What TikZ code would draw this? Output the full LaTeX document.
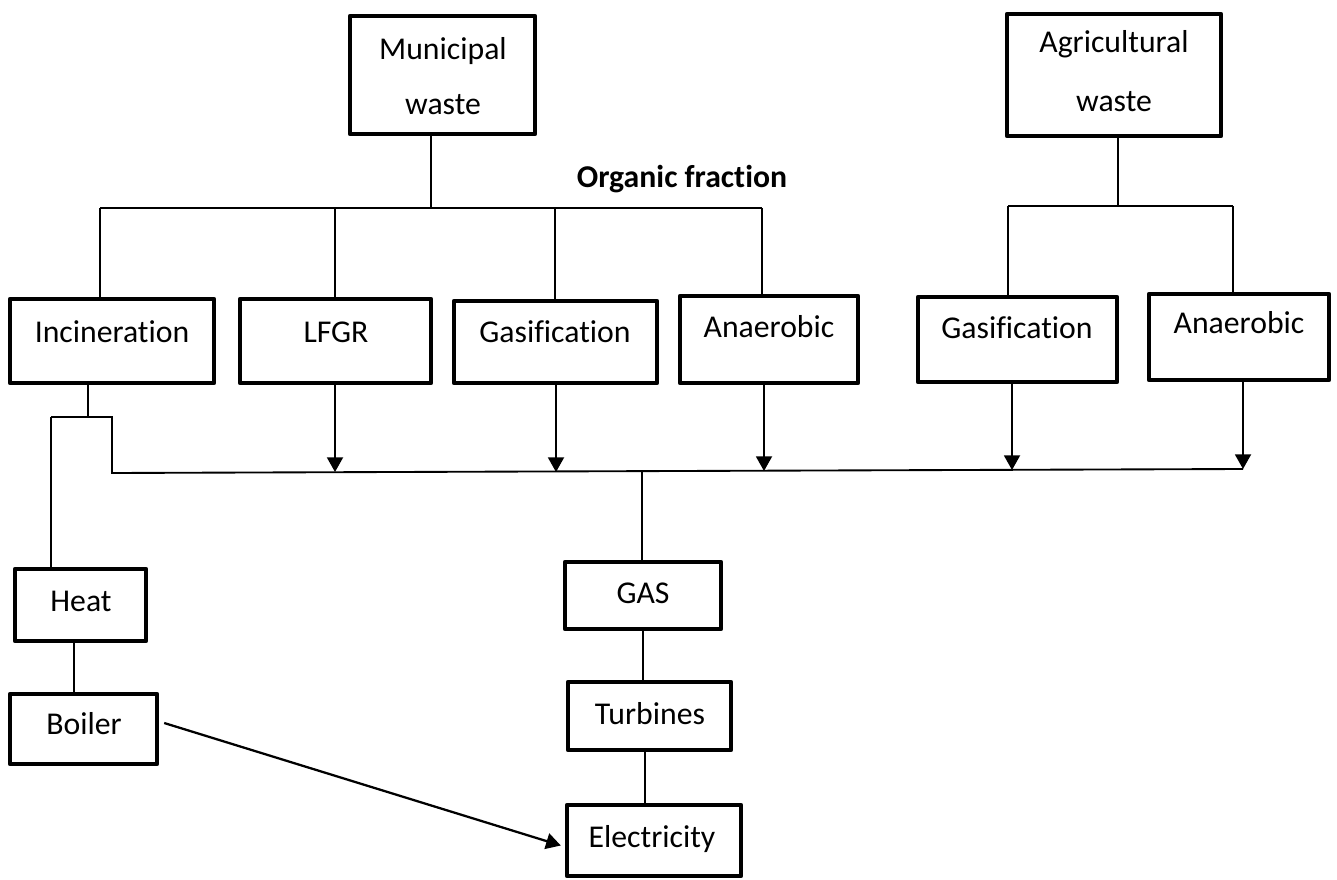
\documentclass[tikz,border=0pt]{standalone}
\usepackage{fontspec}
\setmainfont{Carlito}[Ligatures=NoCommon]
\usetikzlibrary{arrows.meta,fit,calc}
\begin{document}
\begin{tikzpicture}[x=0.75pt,y=-0.75pt,
  box/.style={draw,line width=3.3pt,line join=round,inner sep=0pt},
  lbl/.style={anchor=base,font=\fontsize{23.8pt}{28pt}\selectfont,inner sep=0pt},
  ln/.style={line width=1.4pt},
  arr/.style={ln,-{Triangle[width=12pt,length=11pt]}}]
\fill[white] (0,0) rectangle (1337,880);
\useasboundingbox (0,0) rectangle (1337,880);

% boxes
\node[box,fit={(350,16)(535,134)}] (mw) {};
\node[box,fit={(1007,14)(1221,136)}] (aw) {};
\node[box,fit={(10,299)(214,383)}] (inc) {};
\node[box,fit={(240,299)(431,383)}] (lfgr) {};
\node[box,fit={(454,301)(657,383)}] (gas1) {};
\node[box,fit={(680,296)(858,383)}] (ana1) {};
\node[box,fit={(918,297)(1117,382)}] (gas2) {};
\node[box,fit={(1149,294)(1329,380)}] (ana2) {};
\node[box,fit={(15,569)(146,641)}] (heat) {};
\node[box,fit={(10,694)(157,764)}] (boil) {};
\node[box,fit={(565,562)(721,629)}] (gas) {};
\node[box,fit={(568,682)(731,750)}] (turb) {};
\node[box,fit={(567,805)(741,876)}] (elec) {};

% labels
\node[lbl] (t1) at (443,60) {Municipal};
\node[lbl] (t2) at (443,115) {waste};
\node[lbl] (t3) at (1114,53) {Agricultural};
\node[lbl] (t4) at (1114,112) {waste};
\node[lbl,font=\fontsize{23.8pt}{28pt}\selectfont\bfseries] (t5) at (682,188) {Organic fraction};
\node[lbl] (t6) at (112,342) {Incineration};
\node[lbl] (t7) at (336,342) {LFGR};
\node[lbl] (t8) at (555,342) {Gasification};
\node[lbl] (t9) at (769,337) {Anaerobic};
\node[lbl] (t10) at (1017,339) {Gasification};
\node[lbl] (t11) at (1239,334) {Anaerobic};
\node[lbl] (t12) at (81,611) {Heat};
\node[lbl] (t13) at (84,734) {Boiler};
\node[lbl] (t14) at (643,603) {GAS};
\node[lbl] (t15) at (650,724) {Turbines};
\node[lbl] (t16) at (652,847) {Electricity};

% junction coordinates
\coordinate (jm) at (431,208);
\coordinate (o1) at (100,208);
\coordinate (o2) at (335,208);
\coordinate (o3) at (555,208);
\coordinate (o4) at (762,208);
\coordinate (ja) at (1118,206);
\coordinate (g1) at (1008,206);
\coordinate (g2) at (1233,206);
\coordinate (ib) at (88,417);
\coordinate (il) at (51,417);
\coordinate (ir) at (112,417);
\coordinate (c0) at (112,473);
\coordinate (a1) at (335,472);
\coordinate (a2) at (556,472);
\coordinate (cg) at (642,472);
\coordinate (a3) at (764,471);
\coordinate (a4) at (1012,470);
\coordinate (a5) at (1243,469);
\coordinate (v1) at (74,0);
\coordinate (v2) at (643,0);
\coordinate (v3) at (645,0);

% municipal tree
\draw[ln] (mw.south -| jm) -- (jm);
\draw[ln] (o1) -- (o4);
\draw[ln] (o1) -- (inc.north -| o1);
\draw[ln] (o2) -- (lfgr.north -| o2);
\draw[ln] (o3) -- (gas1.north -| o3);
\draw[ln] (o4) -- (ana1.north -| o4);

% agricultural tree
\draw[ln] (aw.south -| ja) -- (ja);
\draw[ln] (g1) -- (g2);
\draw[ln] (g1) -- (gas2.north -| g1);
\draw[ln] (g2) -- (ana2.north -| g2);

% incineration split
\draw[ln] (inc.south -| ib) -- (ib);
\draw[ln] (il) -- (ir) -- (c0) -- (a5);
\draw[ln] (il) -- (heat.north -| il);

% arrows into collector
\draw[arr] (lfgr.south -| a1) -- (a1);
\draw[arr] (gas1.south -| a2) -- (a2);
\draw[arr] (ana1.south -| a3) -- (a3);
\draw[arr] (gas2.south -| a4) -- (a4);
\draw[arr] (ana2.south -| a5) -- (a5);

% lower chain
\draw[ln] (cg) -- (gas.north -| cg);
\draw[ln] (heat.south -| v1) -- (boil.north -| v1);
\draw[ln] (gas.south -| v2) -- (turb.north -| v2);
\draw[ln] (turb.south -| v3) -- (elec.north -| v3);
\draw[arr,line width=1.7pt] ($(boil.east)+(5,-6)$) -- ($(elec.west)+(-4,5)$);
\end{tikzpicture}
\end{document}
